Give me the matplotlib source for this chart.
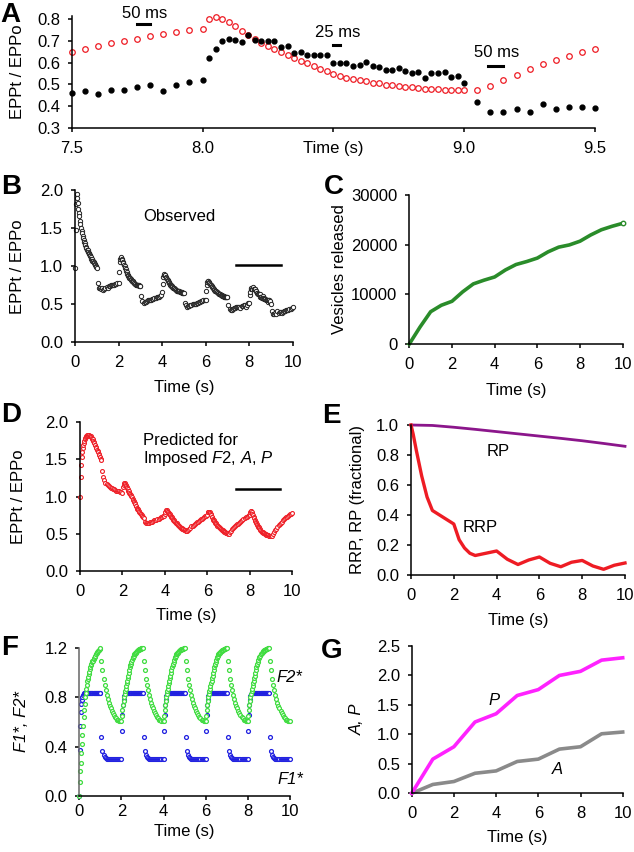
import numpy as np
import matplotlib
matplotlib.use("Agg")
import matplotlib.pyplot as plt

plt.rcParams['font.family'] = ['Liberation Sans', 'DejaVu Sans']
plt.rcParams['mathtext.fontset'] = 'custom'
plt.rcParams['mathtext.rm'] = 'Liberation Sans'
plt.rcParams['mathtext.it'] = 'Liberation Sans:italic'

# ---- B / A : observed EPPt/EPPo (40 Hz bursts 25 ms, 20 Hz runs 50 ms) ----
obs_start = [0.98]
obs_fast_0 = [1.48, 1.82, 1.95, 1.90, 1.83, 1.76, 1.70, 1.66, 1.60, 1.55,
              1.51, 1.47, 1.44, 1.40, 1.37, 1.34, 1.32, 1.30, 1.28, 1.25,
              1.24, 1.22, 1.22, 1.19, 1.18, 1.16, 1.15, 1.14, 1.12, 1.10,
              1.09, 1.07, 1.07, 1.05, 1.04, 1.03, 1.02, 1.01, 0.99, 0.98]
obs_slow_1 = [0.78, 0.72, 0.71, 0.70, 0.71, 0.69, 0.70, 0.72, 0.73, 0.72,
              0.74, 0.74, 0.75, 0.75, 0.76, 0.76, 0.77, 0.77, 0.78, 0.78]
obs_fast_2 = [0.93, 1.05, 1.09, 1.11, 1.12, 1.10, 1.08, 1.06, 1.04, 1.02,
              1.00, 0.98, 0.96, 0.94, 0.92, 0.90, 0.88, 0.87, 0.86, 0.85,
              0.84, 0.83, 0.82, 0.81, 0.80, 0.80, 0.79, 0.78, 0.78, 0.77,
              0.77, 0.76, 0.76, 0.76, 0.75, 0.75, 0.75, 0.74, 0.74, 0.74]
obs_slow_3 = [0.61, 0.54, 0.52, 0.53, 0.53, 0.54, 0.55, 0.55, 0.56, 0.56,
              0.57, 0.57, 0.58, 0.58, 0.59, 0.60, 0.60, 0.61, 0.62, 0.66]
obs_fast_4 = [0.77, 0.86, 0.89, 0.90, 0.89, 0.88, 0.86, 0.85, 0.83, 0.82,
              0.80, 0.79, 0.78, 0.77, 0.76, 0.75, 0.74, 0.74, 0.73, 0.72,
              0.72, 0.71, 0.70, 0.70, 0.69, 0.69, 0.68, 0.68, 0.68, 0.67,
              0.67, 0.67, 0.66, 0.66, 0.66, 0.66, 0.65, 0.65, 0.65, 0.65]
obs_slow_5 = [0.52, 0.49, 0.47, 0.48, 0.48, 0.49, 0.49, 0.50, 0.50, 0.51,
              0.51, 0.52, 0.52, 0.53, 0.53, 0.54, 0.54, 0.55, 0.55, 0.56]
obs_fast_6 = [0.67, 0.76, 0.79, 0.80, 0.80, 0.79, 0.78, 0.77, 0.76, 0.75,
              0.74, 0.73, 0.72, 0.71, 0.70, 0.69, 0.68, 0.68, 0.67, 0.66,
              0.66, 0.65, 0.65, 0.64, 0.64, 0.63, 0.63, 0.62, 0.62, 0.62,
              0.61, 0.61, 0.61, 0.60, 0.60, 0.60, 0.60, 0.59, 0.59, 0.59]
obs_slow_7 = [0.49, 0.44, 0.42, 0.43, 0.44, 0.45, 0.45, 0.46, 0.46, 0.462,
              0.468, 0.454, 0.475, 0.475, 0.486, 0.495, 0.471, 0.497, 0.512, 0.520]
obs_fast_8 = [0.620, 0.662, 0.702, 0.709, 0.706, 0.695, 0.729, 0.705, 0.700, 0.698,
              0.700, 0.674, 0.678, 0.643, 0.650, 0.637, 0.636, 0.634, 0.635, 0.597,
              0.597, 0.600, 0.584, 0.588, 0.605, 0.584, 0.578, 0.568, 0.566, 0.573,
              0.563, 0.553, 0.557, 0.527, 0.554, 0.550, 0.556, 0.535, 0.540, 0.508]
obs_slow_9 = [0.417, 0.372, 0.372, 0.385, 0.372, 0.411, 0.388, 0.397, 0.394, 0.392,
              0.40, 0.41, 0.41, 0.42, 0.43, 0.43, 0.44, 0.44, 0.45, 0.46]

# ---- D / A : predicted EPPt/EPPo ----
pred_start = [1.00]
pred_fast_0 = [1.27, 1.43, 1.53, 1.60, 1.65, 1.69, 1.72, 1.75, 1.77, 1.79,
               1.80, 1.81, 1.82, 1.83, 1.83, 1.83, 1.83, 1.82, 1.82, 1.81,
               1.80, 1.79, 1.78, 1.77, 1.75, 1.74, 1.72, 1.70, 1.69, 1.67,
               1.65, 1.63, 1.61, 1.60, 1.58, 1.56, 1.54, 1.53, 1.51, 1.49]
pred_slow_1 = [1.34, 1.27, 1.22, 1.19, 1.17, 1.15, 1.14, 1.13, 1.12, 1.11,
               1.10, 1.10, 1.09, 1.08, 1.08, 1.07, 1.07, 1.06, 1.06, 1.05]
pred_fast_2 = [1.13, 1.16, 1.18, 1.18, 1.17, 1.16, 1.14, 1.13, 1.11, 1.10,
               1.08, 1.07, 1.05, 1.04, 1.03, 1.02, 1.01, 0.99, 0.97, 0.96,
               0.94, 0.93, 0.91, 0.90, 0.88, 0.87, 0.85, 0.84, 0.83, 0.82,
               0.81, 0.79, 0.78, 0.77, 0.76, 0.75, 0.74, 0.73, 0.72, 0.71]
pred_slow_3 = [0.66, 0.64, 0.64, 0.645, 0.65, 0.655, 0.66, 0.665, 0.67, 0.68,
               0.685, 0.69, 0.70, 0.705, 0.71, 0.72, 0.73, 0.735, 0.745, 0.76]
pred_fast_4 = [0.79, 0.82, 0.82, 0.81, 0.80, 0.79, 0.78, 0.77, 0.76, 0.75,
               0.74, 0.73, 0.72, 0.71, 0.70, 0.69, 0.68, 0.67, 0.66, 0.65,
               0.645, 0.64, 0.63, 0.62, 0.615, 0.61, 0.60, 0.595, 0.59, 0.585,
               0.58, 0.575, 0.57, 0.565, 0.56, 0.555, 0.55, 0.545, 0.54, 0.535]
pred_slow_5 = [0.54, 0.555, 0.57, 0.585, 0.60, 0.61, 0.62, 0.635, 0.645, 0.655,
               0.665, 0.675, 0.685, 0.695, 0.705, 0.715, 0.725, 0.735, 0.745, 0.755]
pred_fast_6 = [0.79, 0.80, 0.80, 0.79, 0.78, 0.76, 0.75, 0.73, 0.72, 0.70,
               0.69, 0.68, 0.67, 0.66, 0.65, 0.64, 0.63, 0.62, 0.61, 0.60,
               0.595, 0.59, 0.58, 0.575, 0.57, 0.56, 0.555, 0.55, 0.545, 0.54,
               0.535, 0.53, 0.525, 0.52, 0.515, 0.51, 0.51, 0.505, 0.50, 0.50]
pred_slow_7 = [0.52, 0.54, 0.56, 0.575, 0.59, 0.604, 0.616, 0.627, 0.638, 0.648,
               0.663, 0.677, 0.689, 0.700, 0.711, 0.723, 0.732, 0.742, 0.751, 0.757]
pred_fast_8 = [0.800, 0.809, 0.803, 0.788, 0.769, 0.748, 0.729, 0.709, 0.692, 0.677,
               0.662, 0.648, 0.634, 0.622, 0.608, 0.597, 0.586, 0.572, 0.560, 0.548,
               0.538, 0.531, 0.523, 0.520, 0.514, 0.508, 0.505, 0.498, 0.495, 0.492,
               0.489, 0.486, 0.483, 0.480, 0.478, 0.477, 0.476, 0.475, 0.474, 0.472]
pred_slow_9 = [0.474, 0.494, 0.520, 0.545, 0.569, 0.594, 0.612, 0.632, 0.648, 0.665,
               0.68, 0.695, 0.71, 0.72, 0.73, 0.74, 0.75, 0.76, 0.77, 0.775]

# ---- C : cumulative vesicles released ----
c_time = [0, 0.5, 1, 1.5, 2, 2.5, 3, 3.5, 4, 4.5, 5, 5.5, 6, 6.5, 7, 7.5, 8, 8.5, 9, 9.5, 10]
c_vesicles = [0, 3400, 6500, 7800, 8600, 10500, 12100, 12850, 13500, 14900, 16000,
              16600, 17300, 18550, 19500, 19950, 20700, 21950, 23000, 23700, 24300]

# ---- E : pool sizes ----
e_rrp_time = [0, 0.1, 0.25, 0.5, 0.75, 1, 1.5, 2, 2.25, 2.5, 2.75, 3, 3.5, 4, 4.5, 5,
              5.5, 6, 6.5, 7, 7.5, 8, 8.5, 9, 9.5, 10]
e_rrp = [1.0, 0.94, 0.83, 0.66, 0.52, 0.43, 0.385, 0.34, 0.235, 0.18, 0.145, 0.13, 0.145,
         0.16, 0.105, 0.07, 0.10, 0.12, 0.078, 0.055, 0.085, 0.097, 0.06, 0.038, 0.065, 0.08]
e_rp_time = [0, 1, 2, 3, 4, 5, 6, 7, 8, 9, 10]
e_rp = [1.0, 0.997, 0.985, 0.971, 0.956, 0.941, 0.926, 0.911, 0.895, 0.877, 0.858]

# ---- F : facilitation factors (one 2 s cycle, repeats) ----
f2_start = [0.0]
f2_rise_first = [0.11, 0.20, 0.27, 0.345, 0.42, 0.495, 0.57, 0.64, 0.70, 0.75,
                 0.80, 0.84, 0.87, 0.90, 0.93, 0.95, 0.97, 0.99, 1.01, 1.03,
                 1.045, 1.06, 1.075, 1.085, 1.095, 1.10, 1.11, 1.12, 1.13, 1.14,
                 1.15, 1.155, 1.16, 1.17, 1.175, 1.18, 1.185, 1.19, 1.195, 1.20]
f2_rise = [0.65, 0.70, 0.74, 0.77, 0.80, 0.83, 0.85, 0.87, 0.89, 0.915,
           0.935, 0.955, 0.975, 1.00, 1.02, 1.045, 1.06, 1.075, 1.09, 1.105,
           1.12, 1.13, 1.14, 1.15, 1.155, 1.16, 1.165, 1.17, 1.175, 1.18,
           1.183, 1.186, 1.189, 1.192, 1.194, 1.196, 1.198, 1.20, 1.20, 1.20]
f2_decay = [1.10, 1.02, 0.95, 0.90, 0.86, 0.82, 0.79, 0.755, 0.73, 0.71,
            0.69, 0.67, 0.655, 0.64, 0.63, 0.62, 0.615, 0.61, 0.61, 0.605]
f1_start = [0.0]
f1_rise_first = [0.37, 0.57, 0.68, 0.745, 0.78, 0.80, 0.82, 0.83, 0.837, 0.837,
                 0.837, 0.837, 0.837, 0.837, 0.837, 0.837, 0.837, 0.837, 0.837, 0.837,
                 0.837, 0.837, 0.837, 0.837, 0.837, 0.837, 0.837, 0.837, 0.837, 0.837,
                 0.837, 0.837, 0.837, 0.837, 0.837, 0.837, 0.837, 0.837, 0.837, 0.837]
f1_rise = [0.53, 0.66, 0.74, 0.78, 0.81, 0.83, 0.837, 0.837, 0.837, 0.837,
           0.837, 0.837, 0.837, 0.837, 0.837, 0.837, 0.837, 0.837, 0.837, 0.837,
           0.837, 0.837, 0.837, 0.837, 0.837, 0.837, 0.837, 0.837, 0.837, 0.837,
           0.837, 0.837, 0.837, 0.837, 0.837, 0.837, 0.837, 0.837, 0.837, 0.837]
f1_decay = [0.475, 0.36, 0.335, 0.315, 0.305, 0.30, 0.30, 0.30, 0.30, 0.30,
            0.30, 0.30, 0.30, 0.30, 0.30, 0.30, 0.30, 0.30, 0.30, 0.30]

# ---- G : A and P ----
g_time = [0, 1, 2, 3, 4, 5, 6, 7, 8, 9, 10]
g_P = [0.0, 0.58, 0.79, 1.21, 1.35, 1.66, 1.76, 2.00, 2.07, 2.26, 2.30]
g_A = [0.0, 0.15, 0.20, 0.34, 0.38, 0.54, 0.58, 0.75, 0.79, 1.01, 1.04]


def stitch(start, fast, slow):
    # 40 Hz bursts in even seconds (25 ms), 20 Hz runs in odd seconds (50 ms)
    t = [0.0]
    v = list(start)
    for k in range(5):
        t0 = 2 * k
        t += list(t0 + 0.025 * np.arange(1, 41))
        v += list(fast[k])
        t += list(t0 + 1 + 0.05 * np.arange(1, 21))
        v += list(slow[k])
    return np.array(t), np.array(v)


t_obs, v_obs = stitch(obs_start, [obs_fast_0, obs_fast_2, obs_fast_4, obs_fast_6, obs_fast_8],
                      [obs_slow_1, obs_slow_3, obs_slow_5, obs_slow_7, obs_slow_9])
t_pred, v_pred = stitch(pred_start, [pred_fast_0, pred_fast_2, pred_fast_4, pred_fast_6, pred_fast_8],
                        [pred_slow_1, pred_slow_3, pred_slow_5, pred_slow_7, pred_slow_9])
t_f, v_f2 = stitch(f2_start, [f2_rise_first] + [f2_rise] * 4, [f2_decay] * 5)
_, v_f1 = stitch(f1_start, [f1_rise_first] + [f1_rise] * 4, [f1_decay] * 5)

W, H = 634, 852
fig = plt.figure(figsize=(W / 100, H / 100), dpi=100)


def make_ax(left, right, top, bottom):
    ax = fig.add_axes([left / W, 1 - bottom / H, (right - left) / W, (bottom - top) / H])
    for s in ['top', 'right']:
        ax.spines[s].set_visible(False)
    for s in ['left', 'bottom']:
        ax.spines[s].set_linewidth(1.1)
    ax.tick_params(direction='out', length=3.0, width=1.1, labelsize=12)
    ax.tick_params(axis='x', pad=6.5)
    ax.tick_params(axis='y', pad=5.5)
    return ax


def labels(ax, xl, xy, yl, yx, ystyle='normal'):
    if xl:
        ax.set_xlabel(xl, fontsize=FS, va='center')
        ax.xaxis.set_label_coords(0.5, xy)
    ax.set_ylabel(yl, fontsize=FS, va='center', style=ystyle)
    ax.yaxis.set_label_coords(yx, 0.5)


RED = '#ee1c24'
FS = 12

# ---------------- A ----------------
axA = make_ax(71.7, 595, 16, 127.7)
mA = (t_obs >= 7.5) & (t_obs <= 9.5)
axA.plot(t_pred[mA], v_pred[mA], 'o', ms=4.0, mfc='white', mec=RED, mew=0.9, clip_on=False)
axA.plot(t_obs[mA], v_obs[mA], 'o', ms=3.5, color='black', clip_on=False)
axA.set_xlim(7.5, 9.5)
axA.set_ylim(0.3, 0.815)
axA.set_yticks([0.3, 0.4, 0.5, 0.6, 0.7, 0.8])
axA.set_xticks([7.5, 8.0, 8.5, 9.0, 9.5])
axA.set_xticklabels(['7.5', '8.0', 'Time (s)', '9.0', '9.5'])
labels(axA, None, 0, 'EPPt / EPPo', -0.103)
# scale bars
for (x0, x1, yb, label, ty) in [(7.75, 7.80, 0.778, '50 ms', 0.828),
                                 (8.50, 8.525, 0.680, '25 ms', 0.737),
                                 (9.09, 9.15, 0.586, '50 ms', 0.646)]:
    axA.plot([x0, x1], [yb, yb], color='black', lw=2.2, clip_on=False)
    axA.text((x0 + x1) / 2 + 0.005, ty, label, ha='center', va='center', fontsize=FS)

# ---------------- B ----------------
axB = make_ax(75, 292.7, 190.3, 342.3)
axB.plot(t_obs, v_obs, 'o', ms=3.1, mfc='white', mec='#222222', mew=0.7, clip_on=False)
axB.plot([7.4, 9.47], [1.02, 1.02], color='black', lw=1.8)
axB.text(4.81, 1.66, 'Observed', ha='center', va='center', fontsize=FS)
axB.set_xlim(0, 10)
axB.set_ylim(0, 2.0)
axB.set_xticks([0, 2, 4, 6, 8, 10])
axB.set_yticks([0, 0.5, 1.0, 1.5, 2.0])
axB.set_yticklabels(['0.0', '0.5', '1.0', '1.5', '2.0'])
labels(axB, 'Time (s)', -0.30, 'EPPt / EPPo', -0.262)

# ---------------- C ----------------
axC = make_ax(409.3, 622.7, 195, 344)
axC.plot(c_time, c_vesicles, '-', color='#2a8c2a', lw=2.6, clip_on=False)
axC.plot(c_time[-1:], c_vesicles[-1:], 'o', ms=3.2, mfc='white', mec='#2a8c2a', mew=1, clip_on=False)
axC.set_xlim(0, 10)
axC.set_ylim(0, 30000)
axC.set_xticks([0, 2, 4, 6, 8, 10])
axC.set_yticks([0, 10000, 20000, 30000])
labels(axC, 'Time (s)', -0.309, 'Vesicles released', -0.325)

# ---------------- D ----------------
axD = make_ax(80, 292.3, 422.3, 571)
axD.plot(t_pred, v_pred, 'o', ms=2.8, mfc='white', mec=RED, mew=0.8, clip_on=False)
axD.plot([7.35, 9.42], [1.10, 1.10], color='black', lw=1.8)
axD.text(2.95, 1.76, 'Predicted for', ha='left', va='center', fontsize=FS)
axD.text(2.95, 1.51, r'Imposed $\it{F2}$, $\it{A}$, $\it{P}$', ha='left', va='center', fontsize=FS)
axD.set_xlim(0, 10)
axD.set_ylim(0, 2.0)
axD.set_xticks([0, 2, 4, 6, 8, 10])
axD.set_yticks([0, 0.5, 1.0, 1.5, 2.0])
axD.set_yticklabels(['0.0', '0.5', '1.0', '1.5', '2.0'])
labels(axD, 'Time (s)', -0.296, 'EPPt / EPPo', -0.292)

# ---------------- E ----------------
axE = make_ax(411, 625, 425, 575)
axE.plot(e_rp_time, e_rp, '-', color='#8b168b', lw=2.0, clip_on=False)
axE.plot(e_rrp_time, e_rrp, '-', color=RED, lw=2.4, clip_on=False)
axE.text(4.08, 0.822, 'RP', ha='center', va='center', fontsize=FS)
axE.text(3.22, 0.316, 'RRP', ha='center', va='center', fontsize=FS)
axE.set_xlim(0, 10)
axE.set_ylim(0, 1.0)
axE.set_xticks([0, 2, 4, 6, 8, 10])
axE.set_yticks([0, 0.2, 0.4, 0.6, 0.8, 1.0])
axE.set_yticklabels(['0.0', '0.2', '0.4', '0.6', '0.8', '1.0'])
labels(axE, 'Time (s)', -0.30, 'RRP, RP (fractional)', -0.248)

# ---------------- F ----------------
axF = make_ax(79.3, 290, 648.3, 795.7)
axF.tick_params(axis='x', pad=3)
axF.spines['left'].set_color('#666666')
axF.plot(t_f, v_f1, 'o', ms=2.8, mfc='white', mec='#1f1fe0', mew=0.9, clip_on=False)
axF.plot(t_f, v_f2, 'o', ms=2.8, mfc='white', mec='#3fdc3f', mew=0.9, clip_on=False)
axF.text(9.95, 0.96, 'F2*', ha='center', va='center', fontsize=FS, style='italic')
axF.text(10.0, 0.128, 'F1*', ha='center', va='center', fontsize=FS, style='italic')
axF.set_xlim(0, 10)
axF.set_ylim(0, 1.2)
axF.set_xticks([0, 2, 4, 6, 8, 10])
axF.set_yticks([0, 0.4, 0.8, 1.2])
axF.set_yticklabels(['0.0', '0.4', '0.8', '1.2'])
labels(axF, 'Time (s)', -0.24, 'F1*, F2*', -0.272, ystyle='italic')

# ---------------- G ----------------
axG = make_ax(411.7, 622.7, 646, 793.3)
axG.plot(g_time, g_A, '-', color='#8a8a8a', lw=2.6, clip_on=False)
axG.plot(g_time, g_P, '-', color='#ff22ff', lw=2.6, clip_on=False)
axG.text(3.9, 1.58, 'P', ha='center', va='center', fontsize=FS, style='italic')
axG.text(6.9, 0.41, 'A', ha='center', va='center', fontsize=FS, style='italic')
axG.set_xlim(0, 10)
axG.set_ylim(0, 2.5)
axG.set_xticks([0, 2, 4, 6, 8, 10])
axG.set_yticks([0, 0.5, 1.0, 1.5, 2.0, 2.5])
axG.set_yticklabels(['0.0', '0.5', '1.0', '1.5', '2.0', '2.5'])
labels(axG, 'Time (s)', -0.303, 'A, P', -0.259, ystyle='italic')

# panel letters
for letter, x, y in [('A', 10, 15), ('B', 11, 187), ('C', 334, 187), ('D', 11.5, 415),
                     ('E', 331, 416), ('F', 9.5, 648), ('G', 332, 651)]:
    fig.text(x / W, 1 - y / H, letter, ha='center', va='center', fontsize=20, fontweight='bold')

fig.savefig('out.png', dpi=100)
